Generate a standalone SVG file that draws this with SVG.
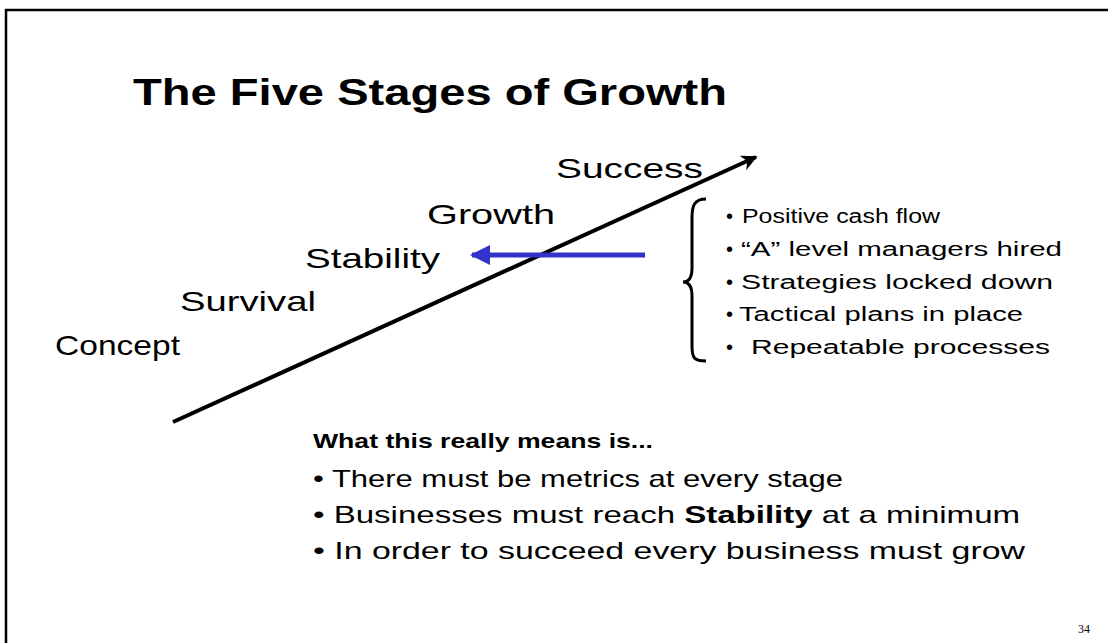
<svg xmlns="http://www.w3.org/2000/svg" width="1108" height="643" viewBox="0 0 1108 643">
<style>
.t{font-family:"Liberation Sans",Arial,sans-serif;fill:#000}
.stage{font-size:28px}
.item{font-size:20px}
.body{font-size:24px}
</style>
<defs>
<marker id="blk" viewBox="0 0 10 10" refX="9" refY="5" markerWidth="5" markerHeight="4" orient="auto" markerUnits="strokeWidth"><path d="M0,0 L10,5 L0,10 L3,5 Z" fill="#000"/></marker>
<marker id="blu" viewBox="0 0 10 10" refX="9" refY="5" markerWidth="5" markerHeight="4" orient="auto" markerUnits="strokeWidth"><path d="M0,0 L10,5 L0,10 Z" fill="#3333CC"/></marker>
</defs>
<rect width="1108" height="643" fill="#fff"/>
<path d="M6,643 V10 H1108" fill="none" stroke="#000" stroke-width="2.5"/>
<text class="t" x="133" y="105" font-size="36" font-weight="bold" textLength="594" lengthAdjust="spacingAndGlyphs">The Five Stages of Growth</text>
<g id="connectors">
<line x1="173" y1="422" x2="756" y2="157" stroke="#000" stroke-width="4" marker-end="url(#blk)"/>
<line x1="645" y1="255" x2="472" y2="255" stroke="#3333CC" stroke-width="5" marker-end="url(#blu)"/>
</g>
<g id="stage-success"><text class="t stage" x="556" y="178" textLength="147" lengthAdjust="spacingAndGlyphs">Success</text></g>
<g id="stage-growth"><text class="t stage" x="427" y="224" textLength="128" lengthAdjust="spacingAndGlyphs">Growth</text></g>
<g id="stage-stability"><text class="t stage" x="305" y="268" textLength="135" lengthAdjust="spacingAndGlyphs">Stability</text></g>
<g id="stage-survival"><text class="t stage" x="180" y="311" textLength="136" lengthAdjust="spacingAndGlyphs">Survival</text></g>
<g id="stage-concept"><text class="t stage" x="55" y="355" textLength="125" lengthAdjust="spacingAndGlyphs">Concept</text></g>
<g id="brace">
<path d="M706,199 C694,199 692,206 692,218 L692,268 C692,278 689,282 683,282 C689,282 692,286 692,296 L692,346 C692,358 694,361 706,361" fill="none" stroke="#000" stroke-width="3"/>
</g>
<g id="stability-list">
<text class="t item" x="726" y="223">• <tspan x="742" textLength="198" lengthAdjust="spacingAndGlyphs">Positive cash flow</tspan></text>
<text class="t item" x="726" y="256">• <tspan x="741" textLength="321" lengthAdjust="spacingAndGlyphs">“A” level managers hired</tspan></text>
<text class="t item" x="726" y="289">• <tspan x="741" textLength="312" lengthAdjust="spacingAndGlyphs">Strategies locked down</tspan></text>
<text class="t item" x="726" y="321">• <tspan x="739" textLength="284" lengthAdjust="spacingAndGlyphs">Tactical plans in place</tspan></text>
<text class="t item" x="726" y="354">• <tspan x="751" textLength="299" lengthAdjust="spacingAndGlyphs">Repeatable processes</tspan></text>
</g>
<g id="summary">
<text class="t" x="313" y="448" font-size="21" font-weight="bold" textLength="340" lengthAdjust="spacingAndGlyphs">What this really means is...</text>
<text class="t body" x="313" y="487" textLength="530" lengthAdjust="spacingAndGlyphs">• There must be metrics at every stage</text>
<text class="t body" x="313" y="523" textLength="707" lengthAdjust="spacingAndGlyphs">• Businesses must reach <tspan font-weight="bold">Stability</tspan> at a minimum</text>
<text class="t body" x="313" y="559" textLength="712" lengthAdjust="spacingAndGlyphs">• In order to succeed every business must grow</text>
</g>
<text x="1078" y="633" font-family="Liberation Serif,serif" font-size="12" fill="#000">34</text>
</svg>
